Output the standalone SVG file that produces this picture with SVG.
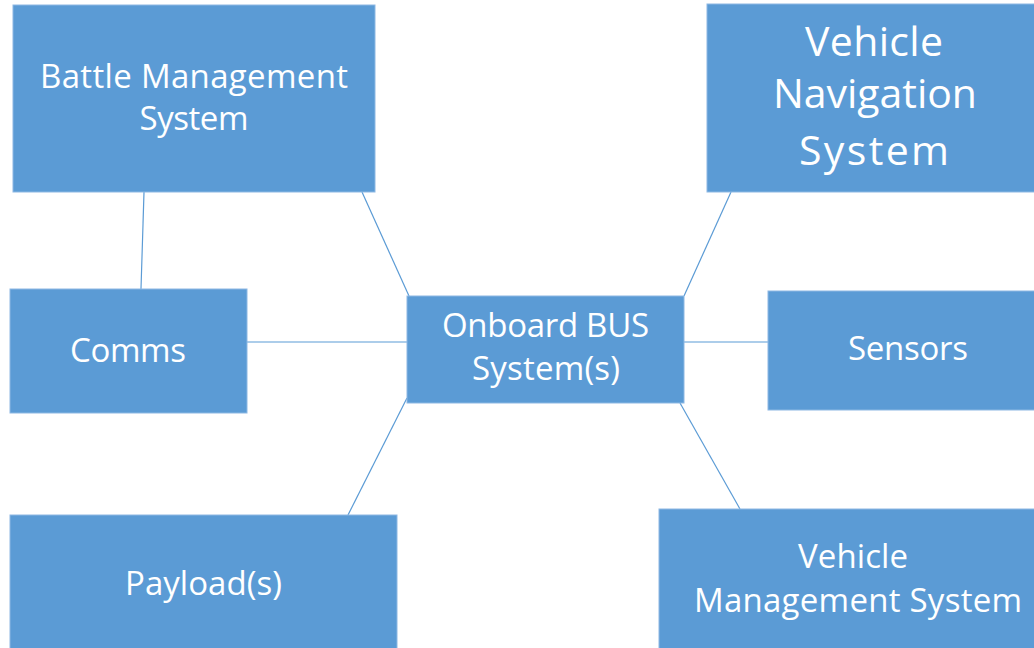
<svg xmlns="http://www.w3.org/2000/svg" width="1034" height="648" viewBox="0 0 1034 648">
<style>
.box{fill:#5B9BD5;stroke:#8DB8E3;stroke-width:1}
.t{font-family:"Open Sans","Noto Sans",sans-serif;font-size:33px;fill:#FFFFFF;text-anchor:middle}
.big{font-size:41px}
.c{stroke:#5B9BD5;stroke-width:1.2;fill:none}
</style>
<rect width="1034" height="648" fill="#FFFFFF"/>
<g id="connectors">
<line class="c" x1="144" y1="192" x2="141" y2="289"/>
<line class="c" x1="362" y1="192" x2="409" y2="296"/>
<line class="c" x1="247" y1="342" x2="407" y2="342"/>
<line class="c" x1="407" y1="398" x2="348" y2="515"/>
<line class="c" x1="731" y1="192" x2="684" y2="296"/>
<line class="c" x1="684" y1="342" x2="768" y2="342"/>
<line class="c" x1="680" y1="403" x2="740" y2="509"/>
</g>
<g id="battle">
<rect class="box" x="13" y="5" width="362" height="187"/>
<text class="t" x="194" y="88" textLength="308">Battle Management</text>
<text class="t" x="194" y="130" textLength="109">System</text>
</g>
<g id="nav">
<rect class="box" x="707" y="4" width="330" height="188"/>
<text class="t big" x="874" y="56" textLength="138">Vehicle</text>
<text class="t big" x="875" y="108" textLength="204">Navigation</text>
<text class="t big" x="874" y="165" textLength="150">System</text>
</g>
<g id="comms">
<rect class="box" x="10" y="289" width="237" height="124"/>
<text class="t" x="128" y="362" textLength="116">Comms</text>
</g>
<g id="onboard">
<rect class="box" x="407" y="296" width="277" height="107"/>
<text class="t" x="545.5" y="337" textLength="207">Onboard BUS</text>
<text class="t" x="546" y="380" textLength="148">System(s)</text>
</g>
<g id="sensors">
<rect class="box" x="768" y="291" width="269" height="119"/>
<text class="t" x="908" y="360" textLength="120">Sensors</text>
</g>
<g id="payload">
<rect class="box" x="10" y="515" width="387" height="136"/>
<text class="t" x="203.5" y="595" textLength="157">Payload(s)</text>
</g>
<g id="vms">
<rect class="box" x="659" y="509" width="378" height="142"/>
<text class="t" x="853" y="568" textLength="110">Vehicle</text>
<text class="t" x="858" y="612" textLength="328">Management System</text>
</g>
</svg>
